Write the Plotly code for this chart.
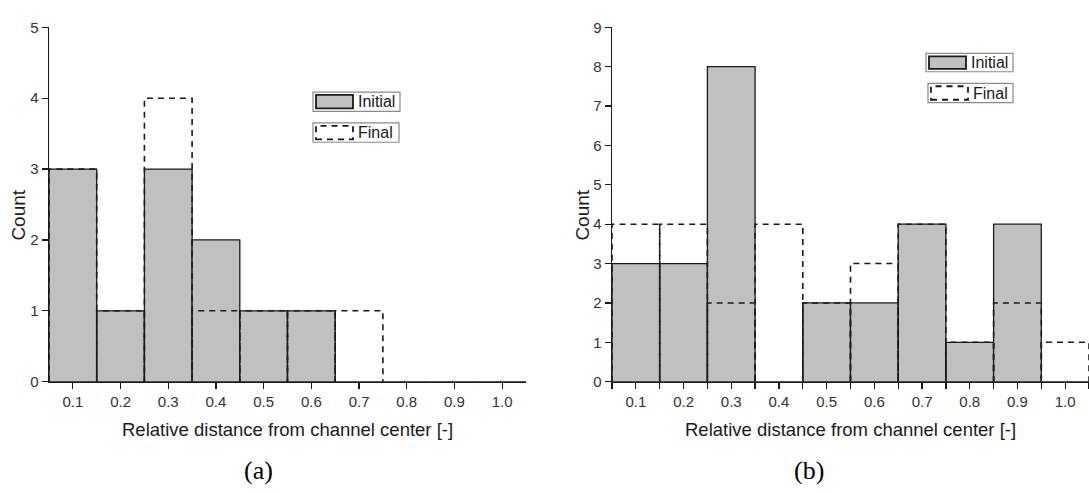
import plotly.graph_objects as go

W, H = 1089, 493

# ---- data ----
centers_a = [0.1, 0.2, 0.3, 0.4, 0.5, 0.6, 0.7, 0.8, 0.9, 1.0]
initial_a = [3, 1, 3, 2, 1, 1, 0, 0, 0, 0]
final_a = [3, 1, 4, 1, 1, 1, 1, 0, 0, 0]

centers_b = [0.1, 0.2, 0.3, 0.4, 0.5, 0.6, 0.7, 0.8, 0.9, 1.0]
initial_b = [3, 3, 8, 0, 2, 2, 4, 1, 4, 0]
final_b = [4, 4, 2, 4, 2, 3, 4, 1, 2, 1]

tick_labels = ["0.1", "0.2", "0.3", "0.4", "0.5", "0.6", "0.7", "0.8", "0.9", "1.0"]
bin_width = 0.1

GRAY = "#c0c0c0"
INK = "#1a1a1a"
FONT = "Liberation Sans, Arial, sans-serif"
SERIF = "Liberation Serif, Times New Roman, serif"


def px(x):
    return x / W


def py(y):
    return (H - y) / H


def outline(centers, values):
    xs, ys = [], []
    for c, v in zip(centers, values):
        if v <= 0:
            continue
        x0, x1 = c - bin_width / 2, c + bin_width / 2
        xs += [x0, x0, x1, x1, None]
        ys += [0, v, v, 0, None]
    return xs, ys


fig = go.Figure()

for centers, init, fin, xa, ya in [
    (centers_a, initial_a, final_a, "x", "y"),
    (centers_b, initial_b, final_b, "x2", "y2"),
]:
    fig.add_trace(go.Bar(
        x=centers, y=init, width=bin_width, xaxis=xa, yaxis=ya,
        marker=dict(color=GRAY, line=dict(color=INK, width=1.3)),
        name="Initial", showlegend=False, hoverinfo="skip",
    ))
    fx, fy = outline(centers, fin)
    fig.add_trace(go.Scatter(
        x=fx, y=fy, mode="lines", xaxis=xa, yaxis=ya,
        line=dict(color=INK, width=1.6, dash="6px,5px"),
        name="Final", showlegend=False, connectgaps=False, hoverinfo="skip",
    ))

ydom = [py(386), py(19)]
common_x = dict(
    range=[0.05, 1.05], showline=True, linecolor=INK, linewidth=1.3,
    ticks="outside", ticklen=6, tickwidth=1.2, tickcolor=INK,
    tickvals=centers_a, ticktext=tick_labels, showgrid=False, zeroline=False,
    tickfont=dict(family=FONT, size=15, color="#333"), fixedrange=True,
)
common_y = dict(
    showline=True, linecolor=INK, linewidth=1.3, ticks="outside", ticklen=6,
    tickwidth=1.2, tickcolor=INK, dtick=1, showgrid=False, zeroline=False,
    tickfont=dict(family=FONT, size=15, color="#333"), domain=ydom, fixedrange=True,
)

fig.update_layout(
    width=W, height=H, margin=dict(l=0, r=0, t=0, b=0),
    paper_bgcolor="white", plot_bgcolor="white", showlegend=False,
    bargap=0,
    xaxis=dict(common_x, domain=[px(49), px(526)], anchor="y"),
    yaxis=dict(common_y, range=[0, 5], anchor="x"),
    xaxis2=dict(common_x, domain=[px(612), 1.0], anchor="y2",
                minor=dict(tickvals=[c - bin_width / 2 for c in centers_b] + [1.05],
                           ticks="outside", ticklen=6, tickwidth=1.2, tickcolor=INK)),
    yaxis2=dict(common_y, range=[0, 9], anchor="x2"),
)

# ---- axis titles and captions ----
ann = []
for cx, cnt_x in [((49 + 526) / 2, 19), ((612 + 1089) / 2, 583)]:
    ann.append(dict(x=px(cx), y=py(436), xref="paper", yref="paper",
                    text="Relative distance from channel center [-]", showarrow=False,
                    font=dict(family=FONT, size=18.5, color=INK),
                    xanchor="center", yanchor="middle"))
    ann.append(dict(x=px(cnt_x), y=py(214), xref="paper", yref="paper", text="Count",
                    textangle=-90, showarrow=False,
                    font=dict(family=FONT, size=19, color=INK),
                    xanchor="center", yanchor="middle"))
cap_pos = [(258, "(a)"), (809, "(b)")]
for cx, cap in cap_pos:
    ann.append(dict(x=px(cx), y=py(478), xref="paper", yref="paper", text=cap,
                    showarrow=False, font=dict(family=SERIF, size=26, color="black"),
                    xanchor="center", yanchor="middle"))

# ---- custom legends (boxed entries) ----
shapes = []
legend_boxes = [
    ((313, 400, 86, 106), (313, 399, 118, 138)),
    ((926, 1013, 46, 65), (928, 1013, 77, 97)),
]
for (ib, fb) in legend_boxes:
    for kind, (x0, x1, y0, y1) in (("Initial", ib), ("Final", fb)):
        shapes.append(dict(type="rect", xref="paper", yref="paper",
                           x0=px(x0), x1=px(x1), y0=py(y1), y1=py(y0),
                           line=dict(color="#8a8a8a", width=1.2), fillcolor="white"))
        sx0, sx1, sy0, sy1 = x0 + 3, x0 + 40, y0 + 3, y1 - 3
        if kind == "Initial":
            shapes.append(dict(type="rect", xref="paper", yref="paper",
                               x0=px(sx0), x1=px(sx1), y0=py(sy1), y1=py(sy0),
                               line=dict(color=INK, width=1.8), fillcolor=GRAY))
        else:
            shapes.append(dict(type="rect", xref="paper", yref="paper",
                               x0=px(sx0), x1=px(sx1), y0=py(sy1), y1=py(sy0),
                               line=dict(color=INK, width=1.8, dash="6px,5px"),
                               fillcolor="rgba(0,0,0,0)"))
        ann.append(dict(x=px(sx1 + 3), y=py((y0 + y1) / 2), xref="paper", yref="paper",
                        text=kind, showarrow=False, xanchor="left", yanchor="middle",
                        font=dict(family=FONT, size=16, color=INK)))

fig.update_layout(annotations=ann, shapes=shapes)
fig.write_html(
    "out.html",
    config={"displayModeBar": False, "staticPlot": True},
    post_script="document.body.style.margin='0';document.body.style.overflow='hidden';",
)
